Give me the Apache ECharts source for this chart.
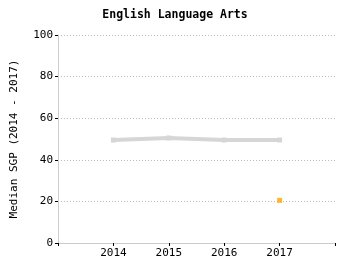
<!DOCTYPE html>
<html><head><meta charset="utf-8">
<script src="https://cdn.jsdelivr.net/npm/echarts@6/dist/echarts.min.js"></script>
<style>html,body{margin:0;padding:0;background:#fff}#c{width:350px;height:275px}</style>
</head><body><div id="c"></div>
<script>
var years = [2014, 2015, 2016, 2017];
var medianSGP = [49.5, 50.5, 49.5, 49.5];
var highlightYear = [2017];
var highlightValue = [20.5];
var yTicks = [0, 20, 40, 60, 80, 100];

var chart = echarts.init(document.getElementById('c'), null, {renderer: 'canvas'});
var mono = '"DejaVu Sans Mono", monospace';
chart.setOption({
  animation: false,
  title: {
    text: 'English Language Arts', left: 'center', top: 4,
    textStyle: {fontFamily: mono, fontSize: 11.5, fontWeight: 'bold', color: '#000'}
  },
  grid: {left: 58, right: 15, top: 35, bottom: 32},
  xAxis: {
    type: 'value', min: 2013, max: 2018, interval: 1,
    axisLine: {lineStyle: {color: '#cccccc', width: 1}},
    axisTick: {show: true, length: 3, lineStyle: {color: '#000'}},
    axisLabel: {
      fontFamily: mono, fontSize: 11, color: '#000', margin: 5,
      formatter: function (v) { return years.indexOf(v) >= 0 ? String(v) : ''; }
    },
    splitLine: {show: false}
  },
  yAxis: {
    type: 'value', min: yTicks[0], max: yTicks[yTicks.length - 1], interval: 20,
    name: 'Median SGP (2014 - 2017)', nameLocation: 'middle', nameGap: 38,
    nameTextStyle: {fontFamily: mono, fontSize: 11, color: '#000'},
    axisLine: {show: true, lineStyle: {color: '#cccccc', width: 1}},
    axisTick: {show: true, length: 3, lineStyle: {color: '#000'}},
    axisLabel: {fontFamily: mono, fontSize: 11, color: '#000', margin: 5},
    splitLine: {show: true, lineStyle: {color: '#bbbbbb', type: [1, 2], width: 1}}
  },
  series: [
    {
      type: 'line',
      data: years.map(function (y, i) { return [y, medianSGP[i]]; }),
      lineStyle: {color: '#d6d6d6', width: 4},
      itemStyle: {color: '#d6d6d6'},
      symbol: 'rect', symbolSize: 5, showSymbol: true
    },
    {
      type: 'scatter',
      data: highlightYear.map(function (y, i) { return [y, highlightValue[i]]; }),
      itemStyle: {color: '#ffa500'},
      symbol: 'rect', symbolSize: 5
    }
  ]
});
</script></body></html>
